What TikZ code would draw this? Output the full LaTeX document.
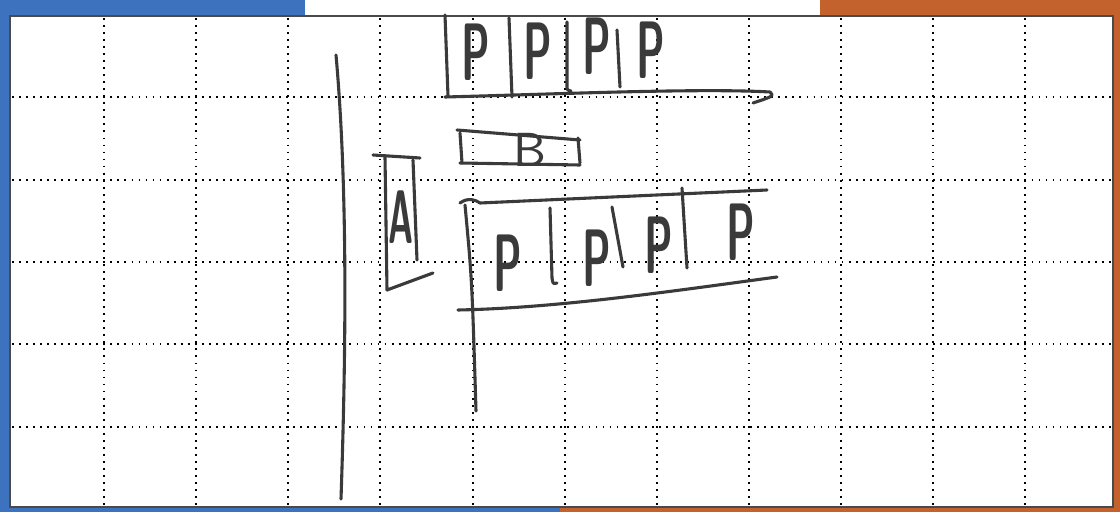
\documentclass[tikz,border=0pt]{standalone}
\usepackage{tikz}
\usetikzlibrary{positioning, calc}

\definecolor{pencil}{HTML}{3A3A3A}
\definecolor{coverblue}{HTML}{3D72BE}
\definecolor{coverorange}{HTML}{C4622D}
\definecolor{paperedge}{HTML}{4A4A4A}

\begin{document}
\begin{tikzpicture}[
    x=0.025cm, y=-0.025cm,
    gridline/.style={draw=black, line width=1.3pt,
      dash pattern=on 1.3pt off 3.7pt},
    stroke/.style={draw=pencil, line width=2.2pt, line cap=round,
      line join=round},
    handP/.style={font=\sffamily\bfseries\fontsize{58}{58}\selectfont,
      text=pencil, inner sep=0pt, xscale=0.5},
    handA/.style={font=\sffamily\bfseries\fontsize{54}{54}\selectfont,
      text=pencil, inner sep=0pt, xscale=0.45},
    handB/.style={font=\sffamily\fontsize{34}{34}\selectfont,
      text=pencil, inner sep=0pt, xscale=1.1},
  ]

  \useasboundingbox (0,0) rectangle (1120,512);

  %% ---- notebook cover and paper ----
  \fill[white] (0,0) rectangle (1120,512);
  \fill[coverblue]   (0,0) rectangle (305,15);
  \fill[coverblue]   (0,0) rectangle (10,512);
  \fill[coverblue]   (0,507) rectangle (560,512);
  \fill[coverorange] (820,0) rectangle (1120,15);
  \fill[coverorange] (1113,0) rectangle (1120,512);
  \fill[coverorange] (560,507) rectangle (1120,512);
  \draw[paperedge, line width=0.8pt] (10,16) rectangle (1113,507);

  %% ---- dotted grid ----
  \foreach \gx in {104,196,288,380,473,565,657,749,841,933,1025}
    \draw[gridline] (\gx,18) -- (\gx,505);
  \foreach \gy in {97,180,262,344,427}
    \draw[gridline] (12,\gy) -- (1111,\gy);

  %% ---- long separator on the left ----
  \draw[stroke] (336,55) .. controls (349,200) and (345,380) .. (341,499);

  %% ---- top row: P | P | P | P ----
  \draw[stroke] (445,15) -- (448,96);
  \draw[stroke] (509,18) -- (512,97);
  \draw[stroke] (567,22) -- (567,86) .. controls (567,90) .. (571,91);
  \draw[stroke] (617,30) -- (620,87);
  \draw[stroke] (445,97) .. controls (560,94) and (700,88) .. (770,92)
    .. controls (774,96) .. (753,103);

  \node[handP] (topP1) at (476,52) {P};
  \node[handP] (topP2) at (538,51) {P};
  \node[handP] (topP3) at (597,46) {P};
  \node[handP] (topP4) at (651,50) {P};

  %% ---- box B ----
  \draw[stroke] (457,130) -- (580,140);
  \draw[stroke] (460,133) -- (462,163);
  \draw[stroke] (578,138) -- (580,163);
  \draw[stroke] (460,163) -- (580,165);
  \node[handB] (boxB) at (530,150) {B};

  %% ---- box A ----
  \draw[stroke] (373,155) -- (420,158);
  \draw[stroke] (385,157) -- (387,290);
  \draw[stroke] (413,160) -- (417,260);
  \draw[stroke] (387,290) -- (433,273);
  \node[handA] (boxA) at (401,217) {A};

  %% ---- lower row: P | P | P | P ----
  \draw[stroke] (460,203) .. controls (468,197) and (476,200) .. (480,203)
    -- (767,190);
  \draw[stroke] (465,205) .. controls (472,280) .. (476,411);
  \draw[stroke] (550,208) -- (552,278) .. controls (553,284) .. (557,283);
  \draw[stroke] (612,207) -- (623,267);
  \draw[stroke] (682,188) -- (687,268);
  \draw[stroke] (458,310) .. controls (560,308) and (680,290) .. (777,277);

  \node[handP] (lowP1) at (508,263) {P};
  \node[handP] (lowP2) at (597,258) {P};
  \node[handP] (lowP3) at (659,245) {P};
  \node[handP] (lowP4) at (741,232) {P};

\end{tikzpicture}
\end{document}
